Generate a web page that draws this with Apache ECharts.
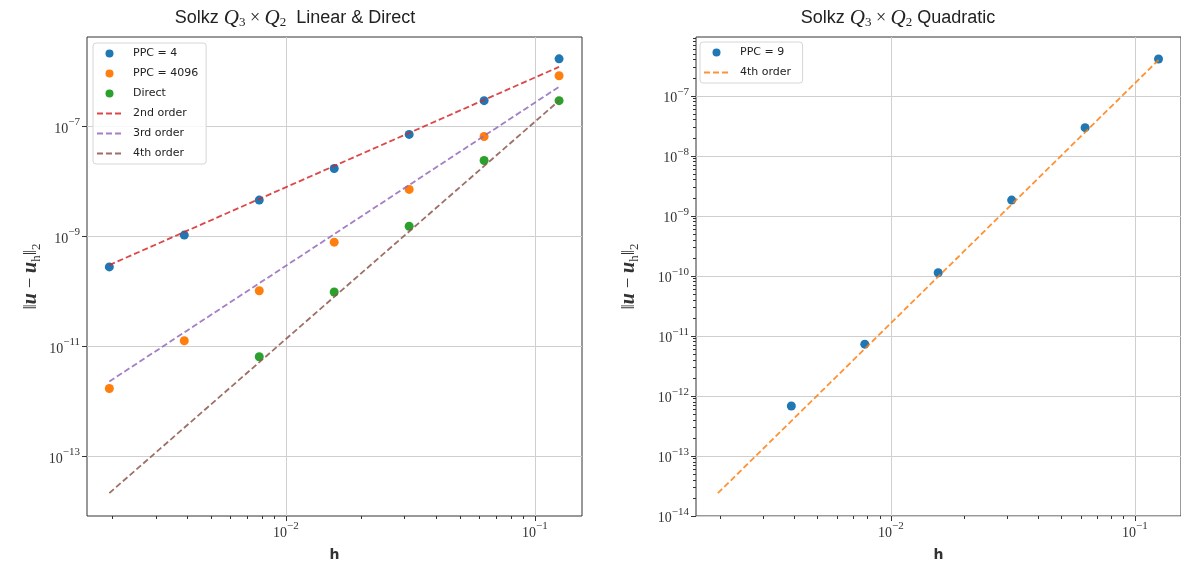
<!DOCTYPE html>
<html><head><meta charset="utf-8">
<script src="https://cdn.jsdelivr.net/npm/echarts@6/dist/echarts.min.js"></script>
<style>html,body{margin:0;padding:0;background:#fff}#c{width:1181px;height:567px}</style>
</head><body><div id="c"></div>
<script>
// ---------- data ----------
const hAll = [0.001953125, 0.00390625, 0.0078125, 0.015625, 0.03125, 0.0625, 0.125];
const ppc4 = [2.8e-10, 1.06e-9, 4.6e-9, 1.73e-8, 7.2e-8, 2.96e-7, 1.71e-6];
const ppc4096 = [1.72e-12, 1.27e-11, 1.03e-10, 7.9e-10, 7.2e-9, 6.6e-8, 8.4e-7];
const directH = [0.0078125, 0.015625, 0.03125, 0.0625, 0.125];
const direct = [6.5e-12, 9.8e-11, 1.54e-9, 2.42e-8, 2.96e-7];
const refH = [0.001953125, 0.125];
const order2 = [3.03e-10, 1.22e-6];
const order3 = [2.3e-12, 5.3e-7];
const order4 = [2.15e-14, 2.96e-7];

const quadH = [0.00390625, 0.0078125, 0.015625, 0.03125, 0.0625, 0.125];
const ppc9 = [6.8e-13, 7.3e-12, 1.13e-10, 1.83e-9, 2.95e-8, 4.1e-7];
const quadOrder4 = [2.4e-14, 3.95e-7];

// tick exponents
const xMajorExp = [-2, -1];
const xMinorDecades = [-3, -2];
const leftYMajorExp = [-13, -11, -9, -7];
const rightYMajorExp = [-14, -13, -12, -11, -10, -9, -8, -7];
const rightYMinorDecades = [-14, -13, -12, -11, -10, -9, -8, -7];
const minorMult = [2, 3, 4, 5, 6, 7, 8, 9];

// axis extents (log10)
const xExt = [-2.799, -0.811];
const leftYExt = [-14.085, -5.37];
const rightYExt = [-14, -6.02];

// ---------- helpers ----------
const lg = v => Math.log10(v);
const pts = (xs, ys) => xs.map((x, i) => [lg(x), lg(ys[i])]);
const minors = (decades, ext) => {
  const out = [];
  decades.forEach(d => minorMult.forEach(m => {
    const v = d + lg(m);
    if (v >= ext[0] && v <= ext[1]) out.push(v);
  }));
  return out;
};
const C = {blue:'#1f77b4', orange:'#ff7f0e', green:'#2ca02c', red:'#d62728', purple:'#9467bd', brown:'#8c564b'};
const SERIF = 'Liberation Serif';
const expLabel = v => '{b|10}{s|−' + Math.abs(Math.round(v)) + '}';
const labelRich = {
  b: {fontFamily: SERIF, fontSize: 14, color: '#333', padding: [5, 0, 0, 0], verticalAlign: 'top'},
  s: {fontFamily: SERIF, fontSize: 11, color: '#333', verticalAlign: 'top'}
};
const gridLine = {show: true, lineStyle: {color: '#cfcfcf', width: 1}};
const tickStyle = {color: '#333', width: 1};

function mainX(gi) {
  return {
    gridIndex: gi, type: 'value', min: xExt[0], max: xExt[1],
    axisLine: {show: false},
    axisTick: {customValues: xMajorExp, length: 5, lineStyle: tickStyle},
    axisLabel: {customValues: xMajorExp, formatter: expLabel, rich: labelRich, margin: 5},
    splitLine: gridLine,
    name: 'h', nameLocation: 'middle', nameGap: 32,
    nameTextStyle: {fontFamily: 'DejaVu Sans', fontWeight: 'bold', fontSize: 14, color: '#333'}
  };
}
function minorX(gi) {
  return {
    gridIndex: gi, type: 'value', min: xExt[0], max: xExt[1], position: 'bottom',
    axisLine: {show: false},
    axisTick: {customValues: minors(xMinorDecades, xExt), length: 3, lineStyle: tickStyle},
    axisLabel: {show: false}, splitLine: {show: false}
  };
}
const yName = '‖{u|u} − {u|u}{sub|h}‖{sub|2}';
const yNameStyle = {
  fontFamily: SERIF, fontSize: 19, color: '#333',
  rich: {
    u: {fontFamily: SERIF, fontSize: 20, fontWeight: 'bold', fontStyle: 'italic', color: '#333'},
    sub: {fontFamily: SERIF, fontSize: 13, color: '#333', verticalAlign: 'top', padding: [11, 0, 0, 0]}
  }
};
function mainY(gi, ext, majors, gap) {
  return {
    gridIndex: gi, type: 'value', min: ext[0], max: ext[1],
    axisLine: {show: false},
    axisTick: {customValues: majors, length: 5, lineStyle: tickStyle},
    axisLabel: {customValues: majors, formatter: expLabel, rich: labelRich, margin: 7},
    splitLine: gridLine,
    name: yName, nameLocation: 'middle', nameGap: gap, nameRotate: 90, nameTextStyle: yNameStyle
  };
}

const dash = [6, 3];
const scatter = (name, data, color, xi, yi) => ({
  type: 'scatter', name, data, xAxisIndex: xi, yAxisIndex: yi,
  symbol: 'circle', symbolSize: 9, itemStyle: {color, opacity: 1}, z: 3
});
const refLine = (name, data, color, xi, yi) => ({
  type: 'line', name, data, xAxisIndex: xi, yAxisIndex: yi,
  symbol: 'none', showSymbol: false, clip: true,
  lineStyle: {color, width: 1.8, type: dash, opacity: 0.85}, itemStyle: {color}, z: 4
});

const legendBase = {
  orient: 'vertical', itemWidth: 25, itemHeight: 8, itemGap: 9, selectedMode: false,
  textStyle: {fontFamily: 'DejaVu Sans', fontSize: 11, color: '#222', padding: [0, 0, 0, 6]},
  borderColor: '#d6d6d6', borderWidth: 1, borderRadius: 3,
  backgroundColor: 'rgba(255,255,255,0.85)', padding: [5, 8, 5, 3]
};
const lineItem = name => ({name, itemStyle: {opacity: 0}});

const titleRich = {
  q: {fontFamily: SERIF, fontStyle: 'italic', fontSize: 21, color: '#555'},
  x: {fontFamily: SERIF, fontSize: 18, color: '#555'},
  sub: {fontFamily: SERIF, fontSize: 13, color: '#555', verticalAlign: 'top', padding: [10, 0, 0, 0]}
};
const titleText = (tail) => ({
  text: 'Solkz {q|Q}{sub|3}{x| × }{q|Q}{sub|2}' + tail,
  rich: titleRich, fontFamily: 'Liberation Sans', fontSize: 18, fill: '#222',
  align: 'center', verticalAlign: 'middle'
});

const chart = echarts.init(document.getElementById('c'), null, {renderer: 'canvas'});
chart.setOption({
  animation: false,
  backgroundColor: '#fff',
  graphic: [
    {type: 'text', x: 295, y: 18, style: titleText('  Linear & Direct')},
    {type: 'text', x: 898, y: 18, style: titleText(' Quadratic')}
  ],
  grid: [
    {left: 87, top: 37, width: 495, height: 482, show: true, borderColor: '#333', borderWidth: 1, backgroundColor: 'transparent'},
    {left: 696, top: 37, width: 495, height: 482, show: true, borderColor: '#333', borderWidth: 1, backgroundColor: 'transparent'}
  ],
  xAxis: [mainX(0), minorX(0), mainX(1), minorX(1)],
  yAxis: [
    mainY(0, leftYExt, leftYMajorExp, 44),
    mainY(1, rightYExt, rightYMajorExp, 55),
    {
      gridIndex: 1, type: 'value', min: rightYExt[0], max: rightYExt[1], position: 'left',
      axisLine: {show: false},
      axisTick: {customValues: minors(rightYMinorDecades, rightYExt), length: 3, lineStyle: tickStyle},
      axisLabel: {show: false}, splitLine: {show: false}
    }
  ],
  legend: [
    Object.assign({}, legendBase, {left: 93, top: 43,
      data: ['PPC = 4', 'PPC = 4096', 'Direct', lineItem('2nd order'), lineItem('3rd order'), lineItem('4th order')]}),
    Object.assign({}, legendBase, {left: 700, top: 42,
      data: ['PPC = 9', lineItem('4th order ')]})
  ],
  series: [
    scatter('PPC = 4', pts(hAll, ppc4), C.blue, 0, 0),
    scatter('PPC = 4096', pts(hAll, ppc4096), C.orange, 0, 0),
    scatter('Direct', pts(directH, direct), C.green, 0, 0),
    refLine('2nd order', pts(refH, order2), C.red, 0, 0),
    refLine('3rd order', pts(refH, order3), C.purple, 0, 0),
    refLine('4th order', pts(refH, order4), C.brown, 0, 0),
    scatter('PPC = 9', pts(quadH, ppc9), C.blue, 2, 1),
    refLine('4th order ', pts(refH, quadOrder4), C.orange, 2, 1)
  ]
});
</script>
</body></html>
